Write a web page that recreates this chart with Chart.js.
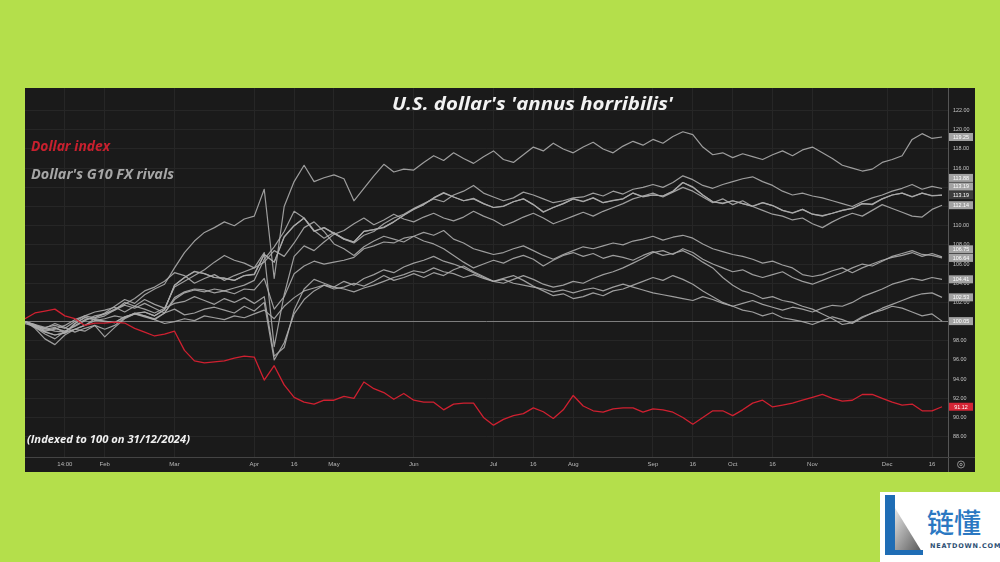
<!DOCTYPE html>
<html><head><meta charset="utf-8">
<script src="https://cdn.jsdelivr.net/npm/chart.js@4.4.1/dist/chart.umd.min.js"></script>
<style>
html,body{margin:0;padding:0;width:1000px;height:562px;background:#b4df4b;overflow:hidden;}
#wrap{position:absolute;left:0;top:0;width:1000px;height:562px;}
#logo{position:absolute;left:880px;top:492px;width:120px;height:70px;background:#fff;}
</style></head><body>
<div id="wrap"><canvas id="c" width="1000" height="562"></canvas></div>
<div id="logo"><svg width="120" height="70" viewBox="0 0 120 70">
<defs><linearGradient id="g" x1="0" y1="0" x2="1" y2="1"><stop offset="0" stop-color="#e6e6e6"/><stop offset="1" stop-color="#555"/></linearGradient></defs>
<polygon points="15,16 15,60 42,60" fill="url(#g)"/>
<rect x="5" y="3" width="10" height="60" fill="#1f6db5"/>
<rect x="5" y="58" width="38" height="5" fill="#1f6db5"/>
<text x="47" y="41" font-family="Noto Sans CJK SC" font-size="27" font-weight="500" fill="#2b78c2">链懂</text>
<text x="50" y="56" font-family="DejaVu Sans" font-size="6.5" font-weight="bold" fill="#2d4f73" letter-spacing="0.8">NEATDOWN.COM</text>
</svg></div>
<script>
// ---- x axis (trading-day index) tick positions and labels
const xTickPos  = [4, 8, 15, 23, 27, 31, 39, 47, 51, 55, 63, 67, 71, 75, 79, 86.5, 91];
const xTickText = ['14:00','Feb','Mar','Apr','16','May','Jun','Jul','16','Aug','Sep','16','Oct','16','Nov','Dec','16'];
const yTicks = [88,90,92,94,96,98,100,102,104,106,108,110,112,114,116,118,120,122];

// ---- series (indexed to 100 on 31/12/2024)
const dollarIndex = [100.3,100.9,101.1,101.3,100.6,100.3,99.6,99.85,99.85,99.95,99.85,99.3,98.9,98.5,98.7,99.0,
 97.0,95.9,95.7,95.8,95.9,96.2,96.4,96.3,93.9,95.4,93.4,92.1,91.6,91.4,91.8,91.8,
 92.2,92.0,93.7,93.0,92.6,91.9,92.5,91.8,91.6,91.6,90.8,91.4,91.5,91.5,90.0,89.2,
 89.8,90.2,90.4,91.0,90.6,89.9,90.8,92.3,91.2,90.7,90.55,90.9,91.0,91.0,90.55,90.9,
 90.8,90.55,90.0,89.3,90.0,90.7,90.7,90.2,90.8,91.5,91.8,91.1,91.3,91.5,91.8,92.1,
 92.4,92.0,91.7,91.8,92.4,92.4,92.0,91.6,91.3,91.4,90.7,90.7,91.12];

const sek = [100.0,99.5,99.1,99.3,99.0,99.6,100.2,100.4, 100.9,101.6,102.3,101.9,102.8,103.4,103.9,105.6,
 107.2,108.4,109.3,109.8,110.4,110.0,110.7,111.0, 113.8,104.5,112.0,114.6,116.3,114.6,115.0,115.3,
 114.9,112.6,113.9,115.2,116.4,115.6,115.9,115.8, 116.6,117.3,116.8,117.6,117.0,116.5,117.2,117.8,
 116.9,116.6,117.4,118.2,117.8,118.6,118.0,117.6, 118.2,118.7,118.0,117.6,118.3,118.8,118.4,119.0,
 118.6,119.3,119.8,119.5,118.2,117.4,117.6,117.1, 117.5,117.2,116.9,117.4,117.8,117.3,117.9,118.2,
 117.6,117.0,116.3,116.0,115.7,115.9,116.6,116.9, 117.3,119.0,119.6,119.1,119.25];
const chf = [99.8,99.5,99.3,99.0,98.9,99.2,99.6,100.1, 100.3,100.6,100.4,100.8,100.6,100.2,100.9,102.3,
 103.0,103.3,103.1,103.4,103.2,103.5,103.8,104.3, 106.5,107.8,109.4,111.5,110.8,109.5,108.7,109.3,
 108.6,108.2,109.0,109.4,110.2,110.8,111.2,111.8, 112.3,112.8,112.5,113.2,113.6,114.2,113.4,113.0,
 112.6,112.9,113.5,113.2,112.8,112.4,112.6,112.9, 113.0,113.4,113.1,113.6,113.3,113.8,114.0,114.3,
 114.0,114.5,115.2,114.8,114.2,113.9,114.3,114.6, 114.9,115.1,114.6,114.2,113.6,113.2,113.4,113.1,
 112.9,112.6,112.3,112.0,112.5,112.9,113.2,113.6, 113.9,114.3,113.8,114.1,113.88];
const eur = [100.0,99.4,98.9,98.6,98.8,99.8,100.4,100.2, 100.0,99.9,100.5,100.8,101.0,100.6,101.2,103.8,
 104.6,105.2,105.0,104.6,104.5,104.3,104.8,104.9, 107.0,106.2,108.8,110.0,110.8,109.4,109.8,109.2,
 108.6,108.3,109.4,109.6,109.8,110.4,111.1,111.7, 112.2,112.9,113.4,113.0,112.6,112.8,112.3,111.9,
 112.0,112.5,112.8,112.2,111.4,111.9,112.3,112.8, 112.5,112.9,112.4,112.6,112.8,113.4,113.0,113.2,
 113.1,113.6,114.5,114.0,113.2,112.5,112.3,112.6, 112.3,112.0,112.4,112.1,111.6,111.3,111.7,111.2,
 111.0,111.3,111.6,111.8,112.3,112.2,112.8,113.2, 113.4,113.0,113.4,113.1,113.19];
const dkk = [100.0,99.45,98.95,98.6,98.85,99.8,100.45,100.2, 100.05,99.9,100.5,100.85,101.0,100.6,101.25,103.8,
 104.6,105.25,105.0,104.6,104.55,104.3,104.8,104.95, 107.0,106.2,108.85,110.0,110.8,109.45,109.8,109.2,
 108.65,108.3,109.4,109.6,109.85,110.4,111.1,111.75, 112.2,112.9,113.45,113.0,112.6,112.85,112.3,111.9,
 112.05,112.5,112.8,112.2,111.45,111.9,112.3,112.8, 112.55,112.9,112.4,112.65,112.8,113.4,113.05,113.2,
 113.1,113.6,114.5,114.05,113.2,112.5,112.35,112.6, 112.3,112.05,112.4,112.1,111.6,111.35,111.7,111.2,
 111.05,111.3,111.6,111.8,112.3,112.25,112.8,113.2, 113.4,113.05,113.4,113.15,113.19];
const nok = [100.0,99.7,99.0,99.2,99.6,100.2,100.6,101.0, 101.2,101.5,101.0,101.6,101.3,100.9,101.4,103.6,
 104.2,104.8,105.4,106.2,106.9,106.4,106.1,105.6, 107.2,97.4,102.8,106.8,107.9,107.4,108.3,109.1,
 109.5,110.2,110.8,110.1,110.6,111.2,110.7,110.4, 110.9,111.3,110.8,110.5,110.9,111.5,111.0,110.6,
 110.0,110.4,110.9,111.3,110.8,110.2,110.6,111.0, 111.4,111.0,111.5,111.9,112.3,112.8,113.1,113.4,
 113.0,113.5,114.0,113.6,113.0,112.4,112.8,112.2, 112.6,112.0,111.6,111.2,111.0,110.6,110.8,110.2,
 109.8,110.4,110.9,111.3,111.0,111.6,112.2,111.8, 111.4,111.0,110.9,111.7,112.14];
const gbp = [100.0,99.3,98.2,97.6,98.6,99.2,99.0,99.6, 99.2,99.6,100.4,100.9,100.6,100.3,100.9,102.5,
 103.1,103.4,103.3,103.0,103.2,102.9,103.4,103.3, 104.5,101.3,102.6,105.0,105.8,106.3,106.0,106.2,
 106.4,106.7,107.6,107.9,108.3,108.2,108.7,108.9, 109.3,109.0,109.5,108.6,108.2,107.6,107.3,107.0,
 107.2,107.6,107.9,107.4,106.9,106.5,107.0,107.4, 107.8,107.6,107.9,108.2,108.0,108.4,108.6,108.9,
 108.5,108.8,109.0,108.7,108.1,107.6,107.3,107.0, 106.8,106.5,106.1,106.3,105.9,105.6,104.9,104.7,
 104.9,105.3,105.6,105.1,105.6,106.0,106.4,106.7, 106.9,107.2,106.8,107.1,106.75];
const aud = [100.0,99.6,99.2,99.4,98.8,99.2,99.6,100.3, 100.6,101.2,101.7,101.4,101.9,101.4,100.9,101.3,
 100.7,100.9,101.3,101.5,101.2,100.9,101.6,101.1, 102.0,96.0,97.8,100.8,102.3,103.2,103.8,103.4,
 103.6,104.0,103.7,104.2,104.8,104.3,104.6,105.0, 104.6,105.1,104.8,105.4,105.8,105.2,104.7,104.2,
 104.0,104.4,104.8,104.4,103.9,103.6,103.8,104.2, 104.0,104.5,104.9,105.2,105.6,106.1,106.6,107.2,
 107.4,107.0,107.6,107.2,106.5,106.0,105.6,105.2, 105.4,104.9,104.6,104.9,105.2,104.6,104.2,103.9,
 104.3,104.7,105.1,105.6,106.0,105.8,106.3,106.8, 107.1,107.4,107.0,106.9,106.64];
const cad = [100.0,99.6,99.3,99.8,99.4,98.9,99.3,99.6, 98.4,99.4,100.3,100.8,100.5,100.2,99.8,100.0,
 100.3,100.1,100.6,100.4,100.2,100.6,100.4,100.8, 101.2,100.3,101.6,102.5,103.2,103.5,103.8,103.6,
 103.4,103.1,103.5,103.8,104.2,104.6,104.9,105.3, 105.1,105.6,105.2,105.0,104.6,104.9,104.5,104.2,
 104.4,104.0,103.8,103.6,103.4,103.1,103.3,103.0, 103.3,103.5,103.2,103.6,103.9,103.6,103.3,103.0,
 102.8,102.6,102.4,102.2,102.6,102.3,101.9,101.6, 101.9,102.2,101.8,101.5,101.2,101.5,101.3,101.0,
 101.4,101.7,101.6,102.0,102.6,103.0,103.4,103.9, 104.2,104.5,104.3,104.6,104.41];
const nzd = [100.0,99.4,98.7,98.2,99.0,99.5,100.1,100.6, 100.8,101.2,102.0,101.6,102.3,101.8,101.4,101.9,
 102.1,102.6,102.2,101.8,102.4,102.0,102.5,101.9, 102.6,96.4,97.3,101.2,103.4,104.4,104.0,103.6,
 104.2,103.8,104.5,104.9,105.4,105.1,105.7,106.1, 106.4,106.8,106.3,106.0,105.6,105.1,104.6,104.2,
 104.5,104.8,104.3,103.7,103.2,102.7,102.9,102.4, 102.6,103.0,102.7,103.2,103.4,103.8,104.2,104.6,
 104.3,104.8,104.4,103.9,103.2,102.6,102.0,101.6, 101.2,101.0,100.6,100.9,100.4,100.2,100.0,99.7,
 100.1,100.5,100.2,99.8,100.4,100.9,101.4,101.8, 102.2,102.6,102.9,103.0,102.53];
const jpy = [100.0,99.7,99.4,99.6,99.3,100.0,100.6,100.4, 100.8,101.3,101.8,102.4,103.2,103.6,104.2,105.1,
 104.8,104.0,104.5,104.9,104.3,104.8,105.2,105.6, 106.2,107.4,106.8,108.2,109.8,110.4,109.4,108.1,
 107.6,106.9,107.8,108.4,108.9,108.6,108.3,108.9, 108.4,108.1,107.6,106.9,106.2,105.6,106.0,106.4,
 106.1,106.6,106.9,106.5,105.8,106.4,106.9,107.2, 106.8,107.1,106.6,106.9,106.7,106.4,106.9,107.3,
 106.9,107.1,107.4,106.9,106.2,105.6,104.6,103.8, 103.2,102.9,102.4,102.6,102.2,102.0,101.6,101.3,
 100.8,100.3,99.7,99.9,100.5,100.9,101.2,101.6, 101.4,101.0,100.6,100.8,100.05];

const seriesNames = ['Dollar index','SEK','CHF','EUR','DKK','NOK','GBP','AUD','CAD','NZD','JPY'];
const seriesData  = [dollarIndex, sek, chf, eur, dkk, nok, gbp, aud, cad, nzd, jpy];

const RED = '#cf2030', GREY = 'rgba(172,172,172,0.9)';
const labelBg = ['#d42535','#a3a3a3','#a3a3a3','#a3a3a3','#3d3d3d','#a3a3a3','#a3a3a3','#a3a3a3','#a3a3a3','#a3a3a3','#a3a3a3'];

const datasets = seriesData.map((arr, k) => ({
  label: seriesNames[k],
  data: arr.map((v, i) => ({x: i, y: v})),
  borderColor: k === 0 ? RED : GREY,
  borderWidth: k === 0 ? 1.3 : 1.2,
  pointRadius: 0, tension: 0, borderJoinStyle: 'round'
}));

function fitText(c, text, x, y, w) {
  const m = c.measureText(text).width;
  c.save(); c.translate(x, y); c.scale(w / m, 1); c.fillText(text, 0, 0); c.restore();
}

const deco = {
  id: 'deco',
  beforeDraw(chart) {
    const c = chart.ctx; c.save();
    c.fillStyle = '#1a1a1a'; c.fillRect(25, 88, 950, 384);
    c.restore();
  },
  afterDatasetsDraw(chart) {
    const c = chart.ctx, ys = chart.scales.y, area = chart.chartArea;
    c.save();
    c.strokeStyle = '#555'; c.lineWidth = 1;
    c.beginPath(); c.moveTo(area.right + 0.5, 88); c.lineTo(area.right + 0.5, 472); c.stroke();
    c.strokeStyle = '#444';
    c.beginPath(); c.moveTo(25, area.bottom + 0.5); c.lineTo(975, area.bottom + 0.5); c.stroke();
    const h = 8.6;
    let items = chart.data.datasets.map((d, k) => {
      const v = d.data[d.data.length - 1].y;
      return {v, y: ys.getPixelForValue(v), bg: labelBg[k]};
    }).sort((a, b) => a.y - b.y);
    for (let k = items.length - 2; k >= 0; k--) {
      if (items[k].y > items[k + 1].y - h) items[k].y = items[k + 1].y - h;
    }
    c.font = '5.4px "Liberation Sans"'; c.textAlign = 'center'; c.textBaseline = 'middle';
    items.forEach(it => {
      c.fillStyle = it.bg; c.fillRect(area.right + 1, it.y - 4, 24, 8);
      c.fillStyle = '#fff'; c.fillText(it.v.toFixed(2), area.right + 13, it.y + 0.3);
    });
    c.textAlign = 'left'; c.textBaseline = 'alphabetic';
    c.font = 'italic 700 17.5px "Open Sans"'; c.fillStyle = '#f2f2f2';
    fitText(c, "U.S. dollar's 'annus horribilis'", 392, 110, 281);
    c.font = 'italic 700 13.5px "Open Sans"';
    c.fillStyle = '#c8202e'; fitText(c, 'Dollar index', 31, 151, 79);
    c.fillStyle = '#a6a6a6'; fitText(c, "Dollar's G10 FX rivals", 31, 179, 143);
    c.font = 'italic 700 11px "Open Sans"'; c.fillStyle = '#f0f0f0';
    fitText(c, '(Indexed to 100 on 31/12/2024)', 27, 443, 163);
    c.strokeStyle = '#aaa'; c.lineWidth = 0.8;
    c.beginPath(); c.arc(961, 464.5, 3.5, 0, Math.PI * 2); c.stroke();
    c.beginPath(); c.arc(961, 464.5, 1.2, 0, Math.PI * 2); c.stroke();
    c.restore();
  }
};

new Chart(document.getElementById('c'), {
  type: 'line',
  data: {datasets},
  options: {
    responsive: false, animation: false, devicePixelRatio: 1,
    layout: {padding: {left: 25, top: 88, right: 25, bottom: 90}},
    plugins: {legend: {display: false}, tooltip: {enabled: false}},
    scales: {
      x: {
        type: 'linear', min: 0, max: 92.6,
        afterBuildTicks: s => { s.ticks = xTickPos.map(v => ({value: v})); },
        afterFit: s => { s.height = 15; },
        ticks: {
          autoSkip: false, maxRotation: 0, padding: 4,
          color: '#b8b8b8', font: {family: 'Liberation Sans', size: 6},
          callback: (v, i) => xTickText[i]
        },
        grid: {color: '#262626', drawTicks: false},
        border: {display: false}
      },
      y: {
        position: 'right', min: 85.88, max: 124.36,
        afterBuildTicks: s => { s.ticks = yTicks.map(v => ({value: v})); },
        afterFit: s => { s.width = 27; },
        ticks: {
          padding: 5, color: '#c4c4c4', font: {family: 'Liberation Sans', size: 5.4},
          callback: v => Number(v).toFixed(2)
        },
        grid: {
          drawTicks: false,
          color: ctx => (ctx.tick && ctx.tick.value === 100) ? '#7d7d7d' : '#262626'
        },
        border: {display: false}
      }
    }
  },
  plugins: [deco]
});
</script>
</body></html>
